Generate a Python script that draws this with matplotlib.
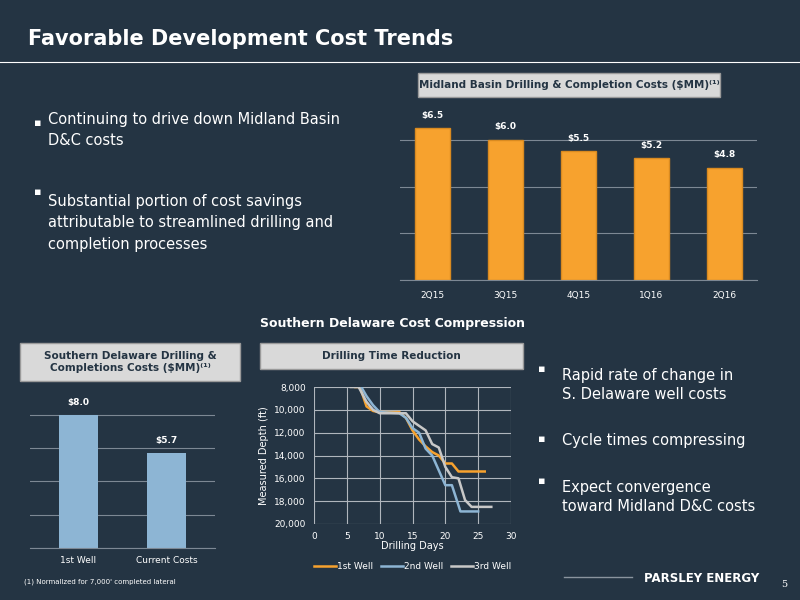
import matplotlib.pyplot as plt
from matplotlib.patches import Rectangle

BG = '#243443'
ORANGE = '#f7a22e'
BLUE = '#8db5d4'
GRAY = '#c8c8c8'
GRID = '#7d8894'

# %% data
midland_q = ['2Q15', '3Q15', '4Q15', '1Q16', '2Q16']
midland_cost = [6.5, 6.0, 5.5, 5.2, 4.8]
delaware_cat = ['1st Well', 'Current Costs']
delaware_cost = [8.0, 5.7]

well1_days = [6.3, 7, 8, 9, 10, 13, 14, 15, 16, 17, 18, 19, 20, 21, 22, 26]
well1_depth = [8000, 8000, 9700, 10100, 10200, 10200, 10700, 11800, 12600, 13200, 13700, 14000, 14700, 14700, 15400, 15400]
well2_days = [7.2, 8, 9, 10, 13, 14, 15, 16, 17, 18, 19, 20, 21, 22.3, 25]
well2_depth = [8000, 8800, 9600, 10200, 10300, 10700, 11600, 12000, 13400, 14000, 15300, 16600, 16600, 18900, 18900]
well3_days = [5.6, 6.8, 8, 9, 10, 14, 15, 17, 18, 19, 20, 21, 22, 23, 24, 27]
well3_depth = [8000, 8000, 9300, 10000, 10300, 10300, 11000, 11800, 13000, 13300, 15000, 15900, 16000, 17900, 18500, 18500]

fig = plt.figure(figsize=(8, 6), dpi=100, facecolor=BG)


def px(x0, y0, x1, y1):
    """pixel box (top-left origin) to figure rect"""
    return [x0 / 800, 1 - y1 / 600, (x1 - x0) / 800, (y1 - y0) / 600]


def header(x0, y0, x1, y1, text):
    fig.patches.append(Rectangle((x0 / 800, 1 - y1 / 600), (x1 - x0) / 800, (y1 - y0) / 600,
                                 transform=fig.transFigure, facecolor='#d9d9d9',
                                 edgecolor='#9a9a9a', lw=1))
    fig.text((x0 + x1) / 1600, 1 - (y0 + y1) / 1200, text, ha='center', va='center',
             fontsize=7.5, fontweight='bold', color='#243443', linespacing=1.2)


def style(ax):
    ax.set_facecolor(BG)
    for s in ax.spines.values():
        s.set_visible(False)
    ax.tick_params(colors='white', length=0, labelsize=6.5)


# title
fig.text(0.035, 0.935, 'Favorable Development Cost Trends', color='white',
         fontsize=15, fontweight='bold', va='center')
fig.add_artist(plt.Line2D([0, 1], [0.897, 0.897], color='white', lw=0.8))

# %% Midland bars
header(418, 73, 720, 97, 'Midland Basin Drilling & Completion Costs (\\$MM)⁽¹⁾')
ax1 = fig.add_axes(px(400, 93, 757, 280))
style(ax1)
b = ax1.bar(midland_q, midland_cost, width=0.48, color=ORANGE, edgecolor='#d98a20')
for r, v in zip(b, midland_cost):
    ax1.text(r.get_x() + r.get_width() / 2, v + 0.45, f'${v:.1f}', ha='center',
             color='white', fontsize=6.5, fontweight='bold')
ax1.set_xlim(-0.45, 4.45)
ax1.set_ylim(0, 8)
ax1.set_yticks([0, 2, 4, 6])
ax1.set_yticklabels([])
ax1.yaxis.grid(True, color=GRID, lw=0.8)
ax1.set_axisbelow(True)
ax1.spines['bottom'].set_visible(True)
ax1.spines['bottom'].set_color(GRID)
ax1.tick_params(axis='x', pad=8)

# bullets
fig.text(0.043, 0.79, '▪', color='white', fontsize=8)
fig.text(0.06, 0.758, 'Continuing to drive down Midland Basin\nD&C costs', color='white',
         fontsize=10.5, linespacing=1.55)
fig.text(0.043, 0.675, '▪', color='white', fontsize=8)
fig.text(0.06, 0.585, 'Substantial portion of cost savings\nattributable to streamlined drilling and\ncompletion processes',
         color='white', fontsize=10.5, linespacing=1.55)

fig.text(0.49, 0.455, 'Southern Delaware Cost Compression', color='white',
         fontsize=9, fontweight='bold', ha='center')

# %% Delaware bars
header(20, 343, 240, 381, 'Southern Delaware Drilling &\nCompletions Costs (\\$MM)⁽¹⁾')
ax2 = fig.add_axes(px(30, 390, 215, 548))
style(ax2)
b = ax2.bar(delaware_cat, delaware_cost, width=0.45, color=BLUE)
for r, v in zip(b, delaware_cost):
    ax2.text(r.get_x() + r.get_width() / 2, v + 0.6, f'${v:.1f}', ha='center',
             color='white', fontsize=6.5, fontweight='bold')
ax2.set_xlim(-0.55, 1.55)
ax2.set_ylim(0, 9.5)
ax2.set_yticks([0, 2, 4, 6, 8])
ax2.set_yticklabels([])
ax2.yaxis.grid(True, color=GRID, lw=0.8)
ax2.set_axisbelow(True)
ax2.spines['bottom'].set_visible(True)
ax2.spines['bottom'].set_color(GRID)
ax2.tick_params(axis='x', pad=6)
fig.text(0.03, 0.028, '(1) Normalized for 7,000\' completed lateral', color='white', fontsize=5)

# %% Drilling time lines
header(260, 343, 523, 369, 'Drilling Time Reduction')
ax3 = fig.add_axes(px(314, 387, 511, 524))
style(ax3)
ax3.plot(well1_days, well1_depth, color=ORANGE, lw=1.8, label='1st Well')
ax3.plot(well2_days, well2_depth, color=BLUE, lw=1.8, label='2nd Well')
ax3.plot(well3_days, well3_depth, color=GRAY, lw=1.8, label='3rd Well')
ax3.set_xlim(0, 30)
ax3.set_ylim(20000, 8000)
ax3.set_xticks(range(0, 31, 5))
ax3.set_yticks(range(8000, 20001, 2000))
ax3.yaxis.set_major_formatter(plt.FuncFormatter(lambda v, _: f'{int(v):,}'))
ax3.grid(True, color='#b0b6bd', lw=0.8)
ax3.tick_params(labelsize=6.5, pad=6)
ax3.set_xlabel('Drilling Days', color='white', fontsize=7, labelpad=0)
ax3.set_ylabel('Measured Depth (ft)', color='white', fontsize=7)
leg = ax3.legend(loc='upper center', bbox_to_anchor=(0.5, -0.22), ncol=3, frameon=False,
                 fontsize=6.5, handlelength=2.5, columnspacing=0.8, handletextpad=0.1)
for t in leg.get_texts():
    t.set_color('white')

# right bullets
for y, txt in [(0.335, 'Rapid rate of change in\nS. Delaware well costs'),
               (0.258, 'Cycle times compressing'),
               (0.148, 'Expect convergence\ntoward Midland D&C costs')]:
    fig.text(0.672, y + 0.045 if '\n' in txt else y + 0.005, '▪', color='white', fontsize=8)
    fig.text(0.703, y, txt, color='white', fontsize=10.5, linespacing=1.35)

# footer
fig.add_artist(plt.Line2D([0.705, 0.79], [0.038, 0.038], color='#8a949e', lw=1))
fig.text(0.805, 0.03, 'PARSLEY ENERGY', color='white', fontsize=8.5, fontweight='bold')
fig.text(0.977, 0.022, '5', color='white', fontsize=7, family='DejaVu Serif')

fig.savefig('out.png', dpi=100, facecolor=BG)
